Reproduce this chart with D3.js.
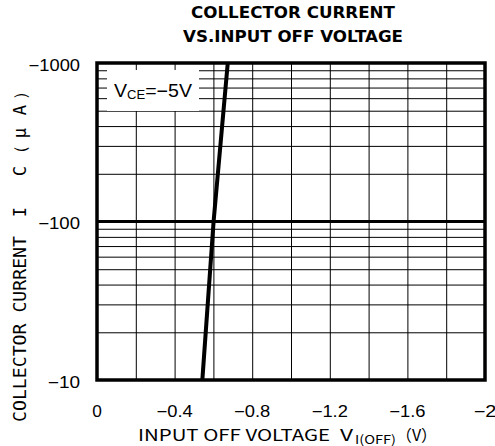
<!DOCTYPE html>
<html>
<head>
<meta charset="utf-8">
<script src="https://cdn.jsdelivr.net/npm/d3@7"></script>
<style>
  body { margin: 0; background: #fff; }
  svg { display: block; }
</style>
</head>
<body>
<div id="chart"></div>
<script>
//size of the picture
var width = 495;
var height = 446;

//the curve: collector current (uA) against input off voltage (V)
var offVoltage = [-0.543, -0.601, -0.674];
var collectorCurrent = [-10, -100, -1000];

//axis ticks
var xTicks = [0, -0.4, -0.8, -1.2, -1.6, -2];
var yTicks = [-10, -100, -1000];

//plot box
var margin = {top: 63, right: 10, bottom: 66, left: 97};

var svg = d3.select("#chart")
            .append("svg")
            .attr("width", width)
            .attr("height", height);

var xScale = d3.scaleLinear()
               .domain([0, -2])
               .range([margin.left, width - margin.right]);

var yScale = d3.scaleLog()
               .domain([-10, -1000])
               .range([height - margin.bottom, margin.top]);

var minus = function(v) { return String(v).replace("-", "\u2212"); };

//the original tick font is wide, so stretch each label to its width
var labelWidth = function(v) {
  var s = String(v);
  var w = 0;
  for (var i = 0; i < s.length; ++i) {
    if (s[i] === "-") w += 13;
    else if (s[i] === ".") w += 4;
    else w += 9.6;
  }
  return w;
};

//vertical gridlines every 0.2 V
svg.append("g")
   .attr("transform", "translate(0," + (height - margin.bottom) + ")")
   .call(d3.axisBottom(xScale)
           .tickValues(d3.range(0, 11).map(function(i) { return -i * 0.2; }))
           .tickSize(-(height - margin.top - margin.bottom))
           .tickFormat(""))
   .call(function(g) { g.select(".domain").remove(); })
   .selectAll("line")
   .attr("stroke", "#000")
   .attr("stroke-width", 1);

//horizontal gridlines at every log step
svg.append("g")
   .attr("transform", "translate(" + margin.left + ",0)")
   .call(d3.axisLeft(yScale)
           .tickValues(yScale.ticks())
           .tickSize(-(width - margin.left - margin.right))
           .tickFormat(""))
   .call(function(g) { g.select(".domain").remove(); })
   .selectAll("line")
   .attr("stroke", "#000")
   .attr("stroke-width", 1);

//thick line at -100
svg.append("line")
   .attr("x1", xScale(0)).attr("x2", xScale(-2))
   .attr("y1", yScale(-100)).attr("y2", yScale(-100))
   .attr("stroke", "#000")
   .attr("stroke-width", 3);

//legend box covers the grid
svg.append("rect")
   .attr("x", 107).attr("y", 70)
   .attr("width", 92).attr("height", 41)
   .attr("fill", "#fff");

var legend = svg.append("text")
   .attr("x", 114)
   .attr("y", 97)
   .attr("textLength", 78)
   .attr("lengthAdjust", "spacingAndGlyphs")
   .style("font-family", "Liberation Sans, Arial, sans-serif")
   .style("font-size", "18px");
legend.append("tspan").text("V");
legend.append("tspan").attr("dy", 2).style("font-size", "12px").text("CE");
legend.append("tspan").attr("dy", -2).text("=\u22125V");

//the data line
var lineGen = d3.line()
                .x(function(d) { return xScale(d[0]); })
                .y(function(d) { return yScale(d[1]); });

svg.append("path")
   .datum(d3.zip(offVoltage, collectorCurrent))
   .attr("d", lineGen)
   .attr("fill", "none")
   .attr("stroke", "#000")
   .attr("stroke-width", 4);

//frame
svg.append("rect")
   .attr("x", xScale(0)).attr("y", yScale(-1000))
   .attr("width", xScale(-2) - xScale(0))
   .attr("height", yScale(-10) - yScale(-1000))
   .attr("fill", "none")
   .attr("stroke", "#000")
   .attr("stroke-width", 3.5);

//tick labels
svg.append("g")
   .selectAll("text")
   .data(xTicks)
   .enter()
   .append("text")
   .attr("x", function(d) { return xScale(d); })
   .attr("y", 417)
   .attr("text-anchor", "middle")
   .attr("textLength", labelWidth)
   .attr("lengthAdjust", "spacingAndGlyphs")
   .style("font-family", "Liberation Sans, Arial, sans-serif")
   .style("font-size", "16px")
   .text(minus);

svg.append("g")
   .selectAll("text")
   .data(yTicks)
   .enter()
   .append("text")
   .attr("x", 80)
   .attr("y", function(d) { return yScale(d) + 7.5; })
   .attr("text-anchor", "end")
   .attr("textLength", labelWidth)
   .attr("lengthAdjust", "spacingAndGlyphs")
   .style("font-family", "Liberation Sans, Arial, sans-serif")
   .style("font-size", "16px")
   .text(minus);

//title
var titles = ["COLLECTOR CURRENT", "VS.INPUT OFF VOLTAGE"];
svg.append("g")
   .selectAll("text")
   .data(titles)
   .enter()
   .append("text")
   .attr("x", 293)
   .attr("y", function(d, i) { return 18 + i * 24; })
   .attr("text-anchor", "middle")
   .attr("textLength", function(d, i) { return i ? 220 : 204; })
   .attr("lengthAdjust", "spacingAndGlyphs")
   .style("font-family", "DejaVu Sans, sans-serif")
   .style("font-weight", "bold")
   .style("font-size", "15px")
   .text(function(d) { return d; });

//x axis label, pieces placed one after another
var xLabelParts = [
  {text: "INPUT OFF VOLTAGE", x: 138, len: 192, size: 16, dy: 0},
  {text: "V", x: 340, len: 13, size: 16, dy: 0},
  {text: "I(OFF)", x: 355, len: 41, size: 12, dy: 3},
  {text: "\uff08V\uff09", x: 396, len: 41, size: 16, dy: 0}
];
svg.append("g")
   .selectAll("text")
   .data(xLabelParts)
   .enter()
   .append("text")
   .attr("x", function(d) { return d.x; })
   .attr("y", function(d) { return 441 + d.dy; })
   .attr("textLength", function(d) { return d.len; })
   .attr("lengthAdjust", "spacingAndGlyphs")
   .style("font-family", "Noto Sans CJK JP, sans-serif")
   .style("font-size", function(d) { return d.size + "px"; })
   .text(function(d) { return d.text; });

//y axis label, rotated, pieces placed along the side
var yLabelParts = [
  {text: "COLLECTOR CURRENT", at: 422, len: 186, anchor: "start"},
  {text: "I", at: 212, len: 0, anchor: "middle"},
  {text: "C", at: 171, len: 0, anchor: "middle"},
  {text: "\uff08", at: 153, len: 0, anchor: "middle"},
  {text: "\u03bc", at: 133, len: 0, anchor: "middle"},
  {text: "A", at: 110, len: 0, anchor: "middle"},
  {text: "\uff09", at: 91, len: 0, anchor: "middle"}
];
svg.append("g")
   .selectAll("text")
   .data(yLabelParts)
   .enter()
   .append("text")
   .attr("transform", function(d) { return "translate(26," + d.at + ") rotate(-90)"; })
   .attr("text-anchor", function(d) { return d.anchor; })
   .attr("textLength", function(d) { return d.len || null; })
   .attr("lengthAdjust", "spacingAndGlyphs")
   .style("font-family", "DejaVu Sans Mono, monospace")
   .style("font-size", "17px")
   .text(function(d) { return d.text; });
</script>
</body>
</html>
